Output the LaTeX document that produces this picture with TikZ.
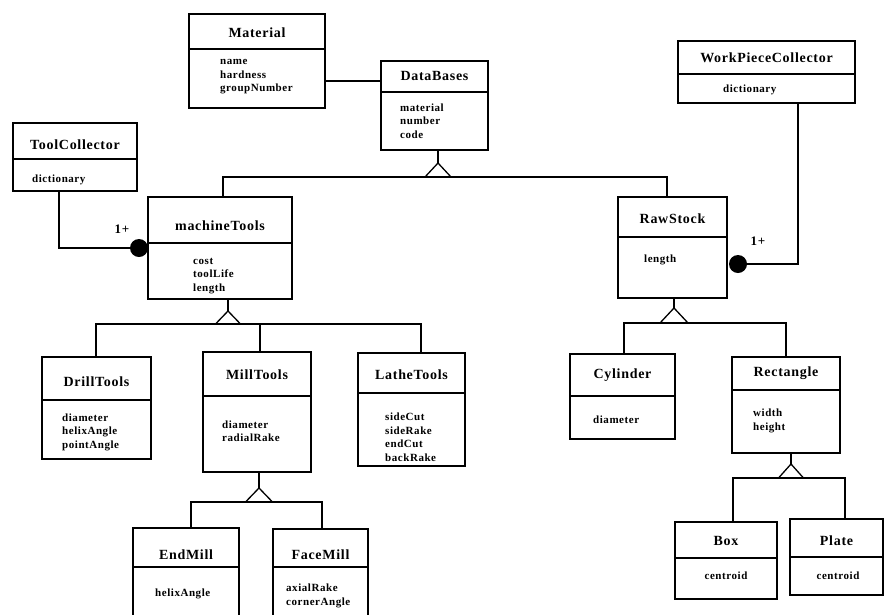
\documentclass[tikz,border=0pt]{standalone}
\usepackage{fontspec}
\setmainfont{Liberation Serif}
\newfontfamily\clsfont[LetterSpace=5]{Liberation Serif}
\usetikzlibrary{fit}

\tikzset{
  umlbox/.style={draw, inner sep=0pt, line width=1.4pt},
  umltitle/.style={font=\clsfont\bfseries\fontsize{14}{16}\selectfont, inner sep=0pt},
  umlattr/.style={font=\clsfont\bfseries\fontsize{11}{13.5}\selectfont, align=left, anchor=west, inner sep=0pt},
  umldot/.style={circle, fill, inner sep=0pt, minimum size=18pt},
  mult/.style={font=\clsfont\bfseries\fontsize{13}{15}\selectfont, inner sep=0pt},
  link/.style={line width=1.3pt},
}

% class box: name, left, top, right, bottom, divider y, title y, title
\newcommand\umlclass[8]{%
  \node[umlbox, fit={(#2,#3) (#4,#5)}] (#1) {};
  \coordinate (#1-dl) at (#2,#6);
  \coordinate (#1-dr) at (#4,#6);
  \draw[link] (#1-dl) -- (#1-dr);
  \node[umltitle] (#1-title) at ({(#2+#4)/2},#7) {#8};
}

% generalization triangle: name, apex x, apex y, base y, half width
\newcommand\umlgen[5]{%
  \coordinate (#1) at (#2,#3);
  \coordinate (#1-bl) at (#2-#5,#4);
  \coordinate (#1-br) at (#2+#5,#4);
  \draw[link, line join=miter] (#1) -- (#1-bl) -- (#1-br) -- cycle;
}

\begin{document}
\begin{tikzpicture}[x=1pt, y=-1pt]
\useasboundingbox (0,0) rectangle (885,614);
\clip (0,0) rectangle (885,614);

% ---- classes ----
\umlclass{mat}{189}{14}{325}{108}{49}{33}{Material}
\node[umlattr] (mat-a) at (220,77) {name\\hardness\\groupNumber};

\umlclass{db}{381}{61}{488}{150}{92}{76}{DataBases}
\node[umlattr] (db-a) at (400,121) {material\\number\\code};

\umlclass{tc}{13}{123}{137}{191}{159}{145}{ToolCollector}
\node[umlattr] (tc-a) at (32,180) {dictionary};

\umlclass{wpc}{678}{41}{855}{103}{74}{58}{WorkPieceCollector}
\node[umlattr] (wpc-a) at (723,90) {dictionary};

\umlclass{mt}{148}{197}{292}{299}{243}{226}{machineTools}
\node[umlattr] (mt-a) at (193,276) {cost\\toolLife\\length};

\umlclass{rs}{618}{197}{727}{298}{237}{219}{RawStock}
\node[umlattr] (rs-a) at (644,260) {length};

\umlclass{dt}{42}{357}{151}{459}{400}{382}{DrillTools}
\node[umlattr] (dt-a) at (62,432) {diameter\\helixAngle\\pointAngle};

\umlclass{mill}{203}{352}{311}{472}{396}{375}{MillTools}
\node[umlattr] (mill-a) at (222,431) {diameter\\radialRake};

\umlclass{lathe}{358}{353}{465}{466}{393}{375}{LatheTools}
\node[umlattr] (lathe-a) at (385,437) {sideCut\\sideRake\\endCut\\backRake};

\umlclass{cyl}{570}{354}{675}{439}{396}{375}{Cylinder}
\node[umlattr] (cyl-a) at (593,420) {diameter};

\umlclass{rect}{732}{357}{840}{453}{390}{373}{Rectangle}
\node[umlattr] (rect-a) at (753,421) {width\\height};

\umlclass{em}{133}{528}{239}{640}{567}{555}{EndMill}
\node[umlattr] (em-a) at (155,594) {helixAngle};

\umlclass{fm}{273}{529}{368}{640}{567}{555}{FaceMill}
\node[umlattr] (fm-a) at (286,596) {axialRake\\cornerAngle};

\umlclass{box}{675}{522}{777}{599}{558}{541}{Box}
\node[umlattr, anchor=center] (box-a) at (726,576) {centroid};

\umlclass{plate}{790}{519}{883}{595}{557}{541}{Plate}
\node[umlattr, anchor=center] (plate-a) at (838,576) {centroid};

% ---- generalizations ----
\umlgen{g1}{438}{163}{177}{13}
\draw[link] (db.south -| g1) -- (g1);
\coordinate (g1L) at (223,177);
\coordinate (g1R) at (667,177);
\draw[link] (mt.north -| g1L) -- (g1L) -- (g1R) -- (rs.north -| g1R);

\umlgen{g2}{228}{311}{324}{12.5}
\draw[link] (mt.south -| g2) -- (g2);
\coordinate (g2L) at (96,324);
\coordinate (g2M) at (260,324);
\coordinate (g2R) at (421,324);
\draw[link] (dt.north -| g2L) -- (g2L) -- (g2R) -- (lathe.north -| g2R);
\draw[link] (g2M) -- (mill.north -| g2M);

\umlgen{g3}{674}{308}{323}{14}
\draw[link] (rs.south -| g3) -- (g3);
\coordinate (g3L) at (624,323);
\coordinate (g3R) at (786,323);
\draw[link] (cyl.north -| g3L) -- (g3L) -- (g3R) -- (rect.north -| g3R);

\umlgen{g4}{259}{488}{502}{13.5}
\draw[link] (mill.south -| g4) -- (g4);
\coordinate (g4L) at (191,502);
\coordinate (g4R) at (322,502);
\draw[link] (em.north -| g4L) -- (g4L) -- (g4R) -- (fm.north -| g4R);

\umlgen{g5}{791}{464}{478}{12.5}
\draw[link] (rect.south -| g5) -- (g5);
\coordinate (g5L) at (733,478);
\coordinate (g5R) at (845,478);
\draw[link] (box.north -| g5L) -- (g5L) -- (g5R) -- (plate.north -| g5R);

% ---- associations ----
\draw[link] (mat.east |- 0,81) -- (db.west |- 0,81);

\node[umldot] (d1) at (139,248) {};
\coordinate (a1) at (59,248);
\draw[link] (tc.south -| a1) -- (a1) -- (d1);
\node[mult] (m1) at (122,229) {1+};

\node[umldot] (d2) at (738,264) {};
\coordinate (a2) at (798,264);
\draw[link] (wpc.south -| a2) -- (a2) -- (d2);
\node[mult] (m2) at (758,241) {1+};
\end{tikzpicture}
\end{document}
